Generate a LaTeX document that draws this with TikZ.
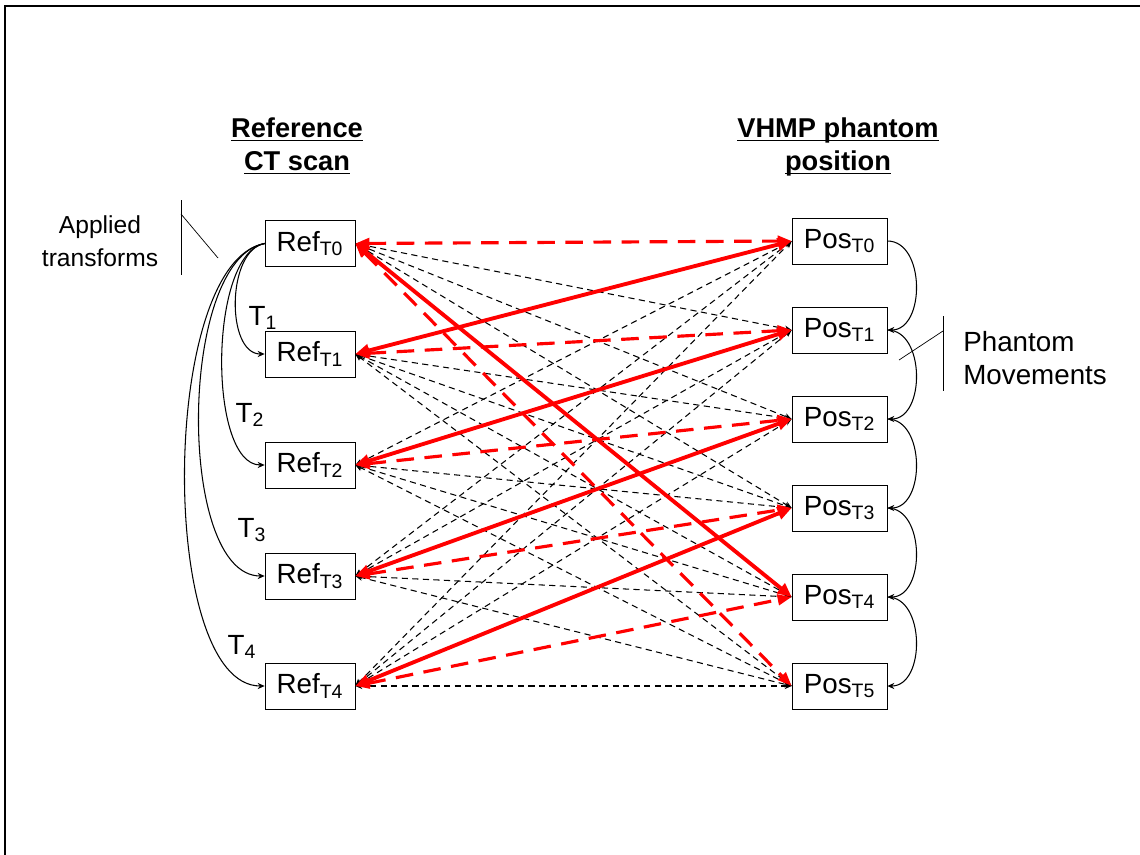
\documentclass[tikz,border=0pt]{standalone}
\usepackage{fontspec}
\setmainfont{Liberation Sans}
\usepackage{tikz}
\usetikzlibrary{arrows.meta,calc}

\begin{document}
\begin{tikzpicture}[
    x=0.02cm, y=-0.02cm,
    box/.style={draw, thin, rectangle, inner sep=0, minimum width=1.8cm, minimum height=0.92cm,
        font=\fontsize{15.8}{18}\selectfont},
    posbox/.style={box, minimum width=1.9cm},
    lbl/.style={inner sep=0, align=center, font=\fontsize{15.8}{18.7}\selectfont},
    head/.style={lbl, font=\fontsize{15.5}{18.7}\selectfont\bfseries},
    blk/.style={line width=0.6pt, dash pattern=on 3.5pt off 2.5pt,
        {Stealth[length=4pt,width=3.5pt]}-{Stealth[length=4pt,width=3.5pt]}},
    reddash/.style={red, line width=1.8pt, dash pattern=on 10pt off 6pt,
        {Triangle[length=8pt,width=6pt]}-{Triangle[length=8pt,width=6pt]}},
    redsolid/.style={red, line width=2.2pt,
        {Triangle[length=8pt,width=7pt]}-{Triangle[length=8pt,width=7pt]}},
    move/.style={line width=0.6pt, -{Stealth[length=4pt,width=3.5pt]}}]
\useasboundingbox (0,0) rectangle (1140,855);
\draw[line width=1.2pt] (5,855) -- (5,6) -- (1140,6);

% headings
\node[head] (hleft)  at (297,156) {\underline{\smash{Reference}}\\\underline{\smash{CT scan}}};
\node[head] (hright) at (838,156) {\underline{\smash{VHMP phantom}}\\\underline{\smash{position}}};

% reference scans
\node[box] (r0) at (310,243.5) {Ref\textsubscript{T0}};
\node[box] (r1) at (310,354)   {Ref\textsubscript{T1}};
\node[box] (r2) at (310,465)   {Ref\textsubscript{T2}};
\node[box] (r3) at (310,576)   {Ref\textsubscript{T3}};
\node[box] (r4) at (310,686)   {Ref\textsubscript{T4}};

% phantom positions
\node[posbox] (p0) at (839.5,241) {Pos\textsubscript{T0}};
\node[posbox] (p1) at (839.5,330) {Pos\textsubscript{T1}};
\node[posbox] (p2) at (839.5,419) {Pos\textsubscript{T2}};
\node[posbox] (p3) at (839.5,508) {Pos\textsubscript{T3}};
\node[posbox] (p4) at (839.5,597) {Pos\textsubscript{T4}};
\node[posbox] (p5) at (839.5,686) {Pos\textsubscript{T5}};

% all other pairs
\foreach \i in {0,...,4}
  \foreach \j in {0,...,5}{
    \pgfmathtruncatemacro\skip{(\j==\i) || (\j==\i-1) || (\i==0 && \j>3) ? 1 : 0}
    \ifnum\skip=0 \draw[blk] (r\i.east) -- (p\j.west);\fi
  }

% matching pairs
\foreach \i/\j in {0/0,1/1,2/2,3/3,4/4,0/5}
  \draw[reddash] (r\i.east) -- (p\j.west);
\foreach \i/\j in {1/0,2/1,3/2,4/3,0/4}
  \draw[redsolid] (r\i.east) -- (p\j.west);

% applied transforms
\draw[move] (r0.west) to[out=190,in=180,looseness=0.9]  (r1.west);
\draw[move] (r0.west) to[out=190,in=180,looseness=0.66] (r2.west);
\draw[move] (r0.west) to[out=190,in=180,looseness=0.68] (r3.west);
\draw[move] (r0.west) to[out=190,in=180,looseness=0.62] (r4.west);
\node[lbl] (t1) at (263,318) {T\textsubscript{1}};
\node[lbl] (t2) at (250,415) {T\textsubscript{2}};
\node[lbl] (t3) at (252,530) {T\textsubscript{3}};
\node[lbl] (t4) at (242,647) {T\textsubscript{4}};

% phantom movements
\foreach \i [count=\j from 1] in {0,...,4}
  \draw[move] (p\i.east) to[out=0,in=0,looseness=1.1] (p\j.east);

% callouts
\node[lbl, font=\fontsize{14}{18.7}\selectfont] (applied) at (100,241) {Applied\\transforms};
\draw[thin] (181,200) -- (181,275);
\draw[thin] (181,214) -- (218,258);
\node[lbl, align=left, anchor=west] (phantom) at (963,358) {Phantom\\Movements};
\draw[thin] (943,316) -- (943,391);
\draw[thin] (943,331) -- (899,360);
\end{tikzpicture}
\end{document}
